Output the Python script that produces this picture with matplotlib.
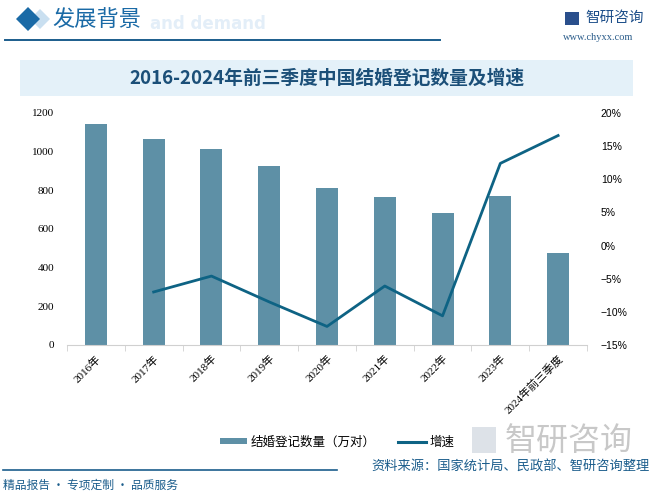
import matplotlib
matplotlib.use("Agg")
import matplotlib.pyplot as plt
from matplotlib.patches import Rectangle, Polygon
from matplotlib.lines import Line2D
from matplotlib.patches import Patch

plt.rcParams['font.family'] = ['Noto Sans CJK SC', 'DejaVu Sans']

categories = ['2016年', '2017年', '2018年', '2019年', '2020年', '2021年', '2022年', '2023年', '2024年前三季度']
marriages = [1142.8, 1063.1, 1013.9, 927.3, 814.3, 764.3, 683.5, 768.2, 474.7]
growth_idx = [1, 2, 3, 4, 5, 6, 7, 8]
growth = [-7.0, -4.6, -8.5, -12.2, -6.1, -10.6, 12.4, 16.6]
left_ticks = [0, 200, 400, 600, 800, 1000, 1200]
right_ticks = [-15, -10, -5, 0, 5, 10, 15, 20]

W, H = 654, 496
fig = plt.figure(figsize=(W / 100, H / 100), dpi=100)
fig.patch.set_facecolor('white')

def fx(x):
    return x / W

def fy(y):
    return 1 - y / H

dark_blue = '#1b5d8c'
bar_color = '#5e90a6'
line_color = '#0e6384'

# header
fig.patches.append(Polygon([[fx(16), fy(19)], [fx(28), fy(7)], [fx(40), fy(19)], [fx(28), fy(31)]],
                           closed=True, transform=fig.transFigure, facecolor='#1a6aa6',
                           edgecolor='none', zorder=3))
fig.patches.append(Polygon([[fx(30), fy(19)], [fx(40), fy(9)], [fx(50), fy(19)], [fx(40), fy(29)]],
                           closed=True, transform=fig.transFigure, facecolor='#c9dff0',
                           edgecolor='none', zorder=2))
fig.text(fx(150), fy(24), 'and demand', fontsize=12, fontweight='bold', color='#e3eef8',
         family='DejaVu Sans', ha='left', va='center', zorder=1)
fig.text(fx(52), fy(19), '发展背景', fontsize=16, color='#1a6aa6', ha='left', va='center', zorder=3)
fig.add_artist(Line2D([fx(5), fx(440)], [fy(40), fy(40)], transform=fig.transFigure,
                      color=dark_blue, lw=1.4))
# logo top right
fig.patches.append(Rectangle((fx(565), fy(25)), fx(14), 13 / H, transform=fig.transFigure,
                             facecolor='#2a4f8c', edgecolor='none'))
fig.text(fx(585), fy(18), '智研咨询', fontsize=10.5, color='#1d4f8a', ha='left', va='center')
fig.text(fx(563), fy(38), 'www.chyxx.com', fontsize=7.5, color='#2a5c8a', family='Liberation Serif',
         ha='left', va='center')

# title box
fig.patches.append(Rectangle((fx(20), fy(96)), fx(613), 36 / H, transform=fig.transFigure,
                             facecolor='#e4f1f9', edgecolor='none', zorder=0))
fig.text(fx(327), fy(78), '2016-2024年前三季度中国结婚登记数量及增速', fontsize=13.5,
         fontweight='bold', color='#1b4f78', ha='center', va='center',
         family=['Noto Sans CJK SC', 'DejaVu Sans'])

# main axes
ax = fig.add_axes([fx(67), fy(345), fx(587) - fx(67), (345 - 113) / H])
ax.set_facecolor('none')
x = list(range(len(categories)))
ax.bar(x, marriages, width=0.38, color=bar_color, zorder=2, label='结婚登记数量（万对）')
ax.set_xlim(-0.5, len(categories) - 0.5)
ax.set_ylim(0, 1200)
ax.set_yticks(left_ticks)
ax.set_yticklabels([str(t) for t in left_ticks], family='Liberation Serif', fontsize=8)
ax.tick_params(axis='y', length=0, pad=9)
ax.set_xticks(x)
ax.set_xticklabels(categories, rotation=45, ha='right', rotation_mode='anchor',
                   fontsize=8, family=['Liberation Serif', 'Noto Sans CJK SC'])
ax.tick_params(axis='x', length=0, pad=6)
ax.set_xticks([i - 0.5 for i in range(len(categories) + 1)], minor=True)
ax.tick_params(axis='x', which='minor', length=4, color='#d0d0d0')
for s in ['top', 'left', 'right']:
    ax.spines[s].set_visible(False)
ax.spines['bottom'].set_color('#d0d0d0')

ax2 = ax.twinx()
ax2.plot(growth_idx, growth, color=line_color, lw=2, zorder=3, label='增速')
ax2.set_ylim(-15, 20)
ax2.set_yticks(right_ticks)
ax2.set_yticklabels([f'{t}%'.replace('-', '−') for t in right_ticks], family='Liberation Sans',
                    fontsize=7.5)
ax2.tick_params(axis='y', length=0, pad=10)
for s in ['top', 'left', 'right', 'bottom']:
    ax2.spines[s].set_visible(False)

# legend
handles = [Patch(facecolor=bar_color, edgecolor='none'),
           Line2D([0], [0], color=line_color, lw=2.2)]
fig.legend(handles, ['结婚登记数量（万对）', '增速'], loc='center', ncol=2,
           bbox_to_anchor=(fx(337), fy(442)), frameon=False, fontsize=9,
           handlelength=2.2, handleheight=0.45, handletextpad=0.3, columnspacing=1.8)

# gray logo
fig.patches.append(Rectangle((fx(472), fy(453)), fx(24), 26 / H, transform=fig.transFigure,
                             facecolor='#dde2e8', edgecolor='none', zorder=0))
fig.text(fx(505), fy(441), '智研咨询', fontsize=23, color='#c8c8c8', ha='left', va='center')

# footer
fig.add_artist(Line2D([fx(3), fx(337)], [fy(470), fy(470)], transform=fig.transFigure,
                      color=dark_blue, lw=1.2))
fig.text(fx(3), fy(485), '精品报告 · 专项定制 · 品质服务', fontsize=8.5, color=dark_blue,
         ha='left', va='center')
fig.text(fx(650), fy(467), '资料来源：国家统计局、民政部、智研咨询整理', fontsize=9.5,
         color=dark_blue, ha='right', va='center')

fig.savefig('out.png', dpi=100, facecolor='white')
